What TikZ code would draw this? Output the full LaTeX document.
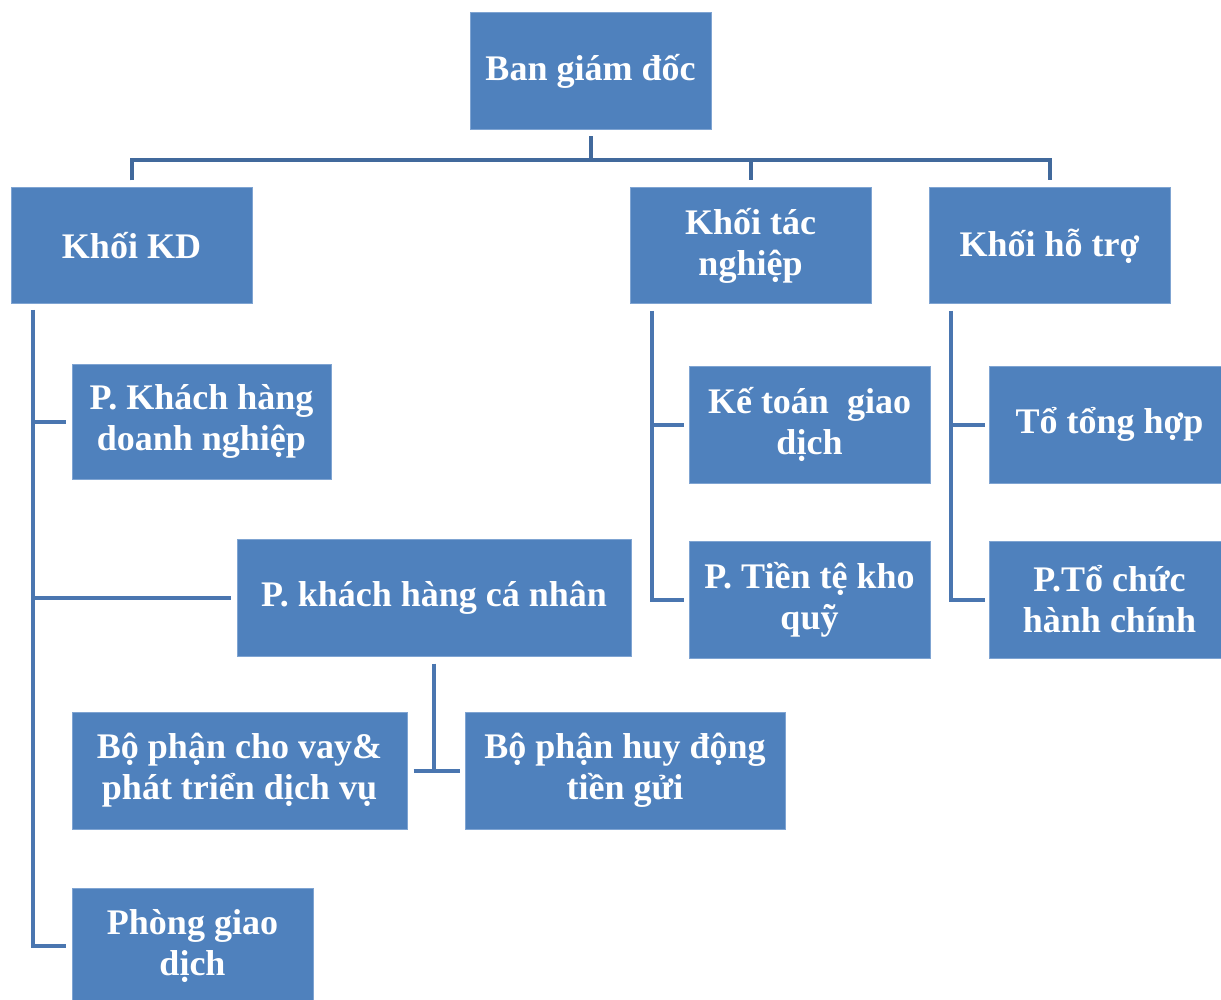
\documentclass[tikz,border=0pt]{standalone}
\usepackage{fontspec}
\setmainfont{Liberation Serif}
\definecolor{boxfill}{HTML}{4F81BD}
\definecolor{boxline}{HTML}{7FA4D2}
\definecolor{connc}{HTML}{4A76B0}
\definecolor{busc}{HTML}{41699C}
\tikzset{
  box/.style={rectangle, fill=boxfill, draw=boxline, line width=1pt, text=white,
    font=\fontsize{36}{41}\selectfont\bfseries, align=center, inner sep=0pt},
  conn/.style={draw=connc, line width=4pt, line cap=butt, line join=miter},
  busline/.style={draw=busc, line width=4pt, line cap=butt, line join=miter}
}
\begin{document}
\begin{tikzpicture}[x=1pt,y=-1pt]
\useasboundingbox (0,0) rectangle (1221,1000);
\fill[white] (0,0) rectangle (1221,1000);
% nodes
\node[box, minimum width=241pt, minimum height=117pt] (ban) at (590.5,71.5) {Ban giám đốc};
\node[box, minimum width=241pt, minimum height=116pt] (kd) at (131.5,246) {Khối KD};
\node[box, minimum width=241pt, minimum height=116pt] (tn) at (750.5,246) {Khối tác\\nghiệp};
\node[box, minimum width=241pt, minimum height=116pt] (ht) at (1049.5,246) {Khối hỗ trợ};
\node[box, minimum width=259pt, minimum height=115pt] (pkdn) at (201.5,421.5) {P. Khách hàng\\doanh nghiệp};
\node[box, minimum width=394pt, minimum height=117pt] (pcn) at (434,597.5) {P. khách hàng cá nhân};
\node[box, minimum width=335pt, minimum height=117pt] (cv) at (239.5,770.5) {Bộ phận cho vay\&\\phát triển dịch vụ};
\node[box, minimum width=320pt, minimum height=117pt] (hd) at (625,770.5) {Bộ phận huy động\\tiền gửi};
\node[box, minimum width=241pt, minimum height=116pt] (pgd) at (192.5,946) {Phòng giao\\dịch};
\node[box, minimum width=241pt, minimum height=117pt] (ktgd) at (809.5,424.5) {Kế toán\ \ giao\\dịch};
\node[box, minimum width=241pt, minimum height=117pt] (tt) at (809.5,599.5) {P. Tiền tệ kho\\quỹ};
\node[box, minimum width=241pt, minimum height=117pt] (th) at (1109.5,424.5) {Tổ tổng hợp};
\node[box, minimum width=241pt, minimum height=117pt] (tc) at (1109.5,599.5) {P.Tổ chức\\hành chính};
% coordinates
\coordinate (bus) at (590,160);
\coordinate (kdt) at (33,310);
\coordinate (tnt) at (652,311);
\coordinate (htt) at (951,311);
% top connectors
\draw[busline] ([yshift=-6pt]ban.south) -- (ban.south |- bus);
\draw[busline] ([yshift=7pt]kd.north) -- (kd.north |- bus) -- (ht.north |- bus) -- ([yshift=7pt]ht.north);
\draw[busline] (tn.north |- bus) -- ([yshift=7pt]tn.north);
% Khoi KD trunk
\draw[conn] (kdt) |- ([xshift=-6pt]pgd.west);
\draw[conn] (kdt |- pkdn.west) -- ([xshift=-6pt]pkdn.west);
\draw[conn] (kdt |- pcn.west) -- ([xshift=-6pt]pcn.west);
% Khoi tac nghiep trunk
\draw[conn] (tnt) |- ([xshift=-5pt]tt.west);
\draw[conn] (tnt |- ktgd.west) -- ([xshift=-5pt]ktgd.west);
% Khoi ho tro trunk
\draw[conn] (htt) |- ([xshift=-4pt]tc.west);
\draw[conn] (htt |- th.west) -- ([xshift=-4pt]th.west);
% P. khach hang ca nhan
\draw[conn] ([yshift=-7pt]pcn.south) -- (pcn.south |- cv.east);
\draw[conn] ([xshift=6pt]cv.east) -- ([xshift=-5pt]hd.west);
\end{tikzpicture}
\end{document}
